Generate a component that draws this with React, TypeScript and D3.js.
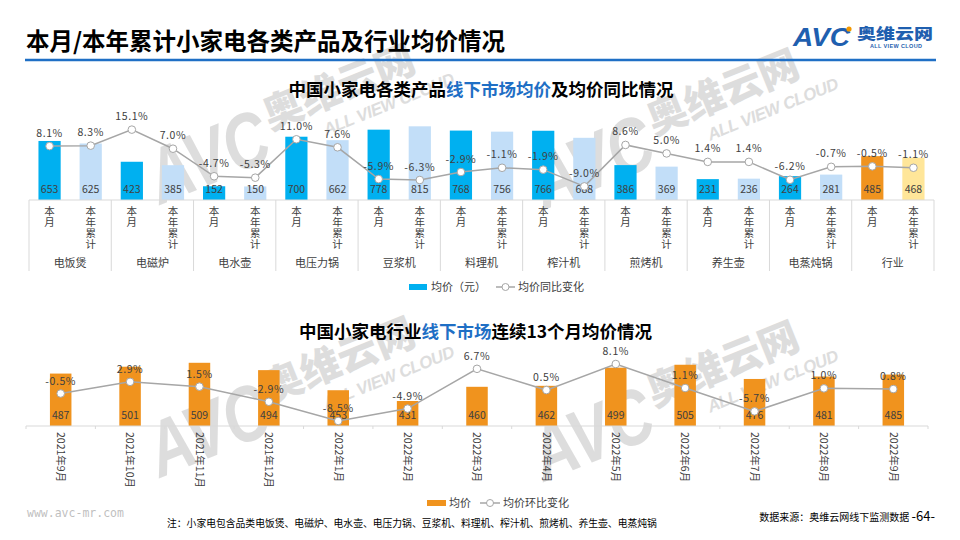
import React, { useEffect, useRef } from "react";
import * as d3 from "d3";

// 各类产品本月 / 本年累计均价
const categories = ["电饭煲", "电磁炉", "电水壶", "电压力锅", "豆浆机", "料理机", "榨汁机", "煎烤机", "养生壶", "电蒸炖锅", "行业"];
const periods = ["本月", "本年累计"];
const monthPrice = [653, 423, 152, 700, 778, 768, 766, 386, 231, 264, 485];
const ytdPrice = [625, 385, 150, 662, 815, 756, 688, 369, 236, 281, 468];
const monthYoy = [8.1, 15.1, -4.7, 11.0, -5.9, -2.9, -1.9, 8.6, 1.4, -6.2, -0.5];
const ytdYoy = [8.3, 7.0, -5.3, 7.6, -6.3, -1.1, -9.0, 5.0, 1.4, -0.7, -1.1];

// 连续13个月行业均价
const months = ["2021年9月", "2021年10月", "2021年11月", "2021年12月", "2022年1月", "2022年2月", "2022年3月", "2022年4月", "2022年5月", "2022年6月", "2022年7月", "2022年8月", "2022年9月"];
const trendPrice = [487, 501, 509, 494, 453, 431, 460, 462, 499, 505, 476, 481, 485];
const trendMom = [-0.5, 2.9, 1.5, -2.9, -8.5, -4.9, 6.7, 0.5, 8.1, 1.1, -5.7, 1.0, 0.8];

const FONT = '"Microsoft YaHei", "Noto Sans CJK SC", sans-serif';
const BLUE = "#00b0f0";
const LIGHT_BLUE = "#c2def8";
const ORANGE = "#f0931e";
const YELLOW = "#ffe699";
const LINE = "#a6a6a6";
const TEXT = "#404040";
const GRID = "#d9d9d9";

const pct = (v: number) => v.toFixed(1) + "%";

const App = () => {
  const ref = useRef<SVGSVGElement>(null);

  useEffect(() => {
    draw();
  });

  const watermark = (svg: any, x: number, y: number) => {
    const g = svg
      .append("g")
      .attr("transform", `translate(${x}, ${y}) rotate(-22)`)
      .attr("fill", "#c8c8c8")
      .attr("opacity", 0.6);
    g.append("text")
      .attr("font-family", "Liberation Sans, sans-serif")
      .attr("font-size", 78)
      .attr("font-weight", 900)
      .attr("font-style", "italic")
      .attr("textLength", 125)
      .attr("lengthAdjust", "spacingAndGlyphs")
      .text("AVC");
    g.append("text")
      .attr("x", 130)
      .attr("y", -28)
      .attr("font-family", FONT)
      .attr("font-size", 40)
      .attr("font-weight", 900)
      .attr("textLength", 160)
      .attr("lengthAdjust", "spacingAndGlyphs")
      .text("奥维云网");
    g.append("text")
      .attr("x", 180)
      .attr("y", -2)
      .attr("font-family", "Liberation Sans, sans-serif")
      .attr("font-size", 17)
      .attr("font-weight", 700)
      .attr("font-style", "italic")
      .attr("textLength", 140)
      .text("ALL VIEW CLOUD");
  };

  const draw = () => {
    const svg = d3.select(ref.current);
    svg.selectAll("*").remove();
    svg.attr("font-family", FONT);

    watermark(svg, 160, 205);
    watermark(svg, 544, 210);
    watermark(svg, 160, 478);
    watermark(svg, 544, 482);

    // header
    svg
      .append("text")
      .attr("x", 26)
      .attr("y", 50)
      .attr("font-size", 23.5)
      .attr("font-weight", 700)
      .attr("fill", "#000")
      .text("本月/本年累计小家电各类产品及行业均价情况");
    svg
      .append("line")
      .attr("x1", 25)
      .attr("x2", 936)
      .attr("y1", 60)
      .attr("y2", 60)
      .attr("stroke", "#1f6fc5")
      .attr("stroke-width", 2.5);

    // logo
    svg
      .append("text")
      .attr("x", 793)
      .attr("y", 46)
      .attr("font-family", "Liberation Sans, sans-serif")
      .attr("font-size", 26)
      .attr("font-weight", 900)
      .attr("font-style", "italic")
      .attr("fill", "#1f5faf")
      .attr("textLength", 57)
      .attr("lengthAdjust", "spacingAndGlyphs")
      .text("AVC");
    svg.append("circle").attr("cx", 849).attr("cy", 29).attr("r", 2.6).attr("fill", "#f39800");
    svg
      .append("text")
      .attr("x", 857)
      .attr("y", 38.5)
      .attr("font-size", 15)
      .attr("font-weight", 900)
      .attr("fill", "#1f5faf")
      .attr("textLength", 76)
      .attr("lengthAdjust", "spacingAndGlyphs")
      .text("奥维云网");
    svg
      .append("text")
      .attr("x", 870)
      .attr("y", 47.5)
      .attr("font-family", "Liberation Sans, sans-serif")
      .attr("font-size", 5.5)
      .attr("font-weight", 700)
      .attr("fill", "#1f5faf")
      .attr("textLength", 52)
      .text("ALL VIEW CLOUD");

    // ---------- chart 1 ----------
    const title1 = svg
      .append("text")
      .attr("x", 481)
      .attr("y", 96)
      .attr("text-anchor", "middle")
      .attr("font-size", 17.5)
      .attr("font-weight", 700)
      .attr("fill", "#000");
    title1.append("tspan").text("中国小家电各类产品");
    title1.append("tspan").attr("fill", "#1f6fc5").text("线下市场均价");
    title1.append("tspan").text("及均价同比情况");

    const x0 = d3.scaleBand().domain(categories).range([29, 934]).padding(0);
    const x1 = d3.scaleBand().domain(periods).range([0, x0.bandwidth()]).padding(0);
    const y = d3.scaleLinear().domain([0, 1000]).range([200, 109.6]);
    const y2 = d3.scaleLinear().domain([-15, 20]).range([200.5, 118.1]);
    const barW = x1.bandwidth() * 0.54;

    const rows = categories.flatMap((c, i) => [
      { cat: c, period: periods[0], price: monthPrice[i], rate: monthYoy[i], color: c === "行业" ? ORANGE : BLUE },
      { cat: c, period: periods[1], price: ytdPrice[i], rate: ytdYoy[i], color: c === "行业" ? YELLOW : LIGHT_BLUE },
    ]);
    const cx = (d: any) => (x0(d.cat) as number) + (x1(d.period) as number) + x1.bandwidth() / 2;

    svg
      .append("g")
      .selectAll("rect")
      .data(rows)
      .join("rect")
      .attr("x", (d: any) => cx(d) - barW / 2)
      .attr("y", (d: any) => y(d.price))
      .attr("width", barW)
      .attr("height", (d: any) => y(0) - y(d.price))
      .attr("fill", (d: any) => d.color);

    svg
      .append("g")
      .selectAll("text")
      .data(rows)
      .join("text")
      .attr("x", cx)
      .attr("y", 193)
      .attr("text-anchor", "middle")
      .attr("font-size", 10.5)
      .attr("fill", TEXT)
      .text((d: any) => d.price);

    // axis & separators
    svg
      .append("line")
      .attr("x1", 29)
      .attr("x2", 934)
      .attr("y1", y(0))
      .attr("y2", y(0))
      .attr("stroke", GRID);
    const bounds = categories.map((c) => x0(c) as number).concat([934]);
    svg
      .append("g")
      .selectAll("line")
      .data(bounds)
      .join("line")
      .attr("x1", (d) => d)
      .attr("x2", (d) => d)
      .attr("y1", y(0))
      .attr("y2", 271)
      .attr("stroke", GRID);

    // vertical period labels (one char per line)
    svg
      .append("g")
      .selectAll("text")
      .data(rows)
      .join("text")
      .attr("x", cx)
      .attr("y", 206)
      .attr("font-size", 10.5)
      .attr("letter-spacing", 0.5)
      .attr("fill", TEXT)
      .style("writing-mode", "vertical-rl")
      .style("text-orientation", "upright")
      .text((d: any) => d.period);
    svg
      .append("g")
      .selectAll("text")
      .data(categories)
      .join("text")
      .attr("x", (d) => (x0(d) as number) + x0.bandwidth() / 2)
      .attr("y", 267)
      .attr("text-anchor", "middle")
      .attr("font-size", 11)
      .attr("fill", TEXT)
      .text((d) => d);

    const line1 = d3
      .line<any>()
      .x(cx)
      .y((d) => y2(d.rate));
    svg.append("path").attr("d", line1(rows)).attr("fill", "none").attr("stroke", LINE).attr("stroke-width", 1.5);
    svg
      .append("g")
      .selectAll("circle")
      .data(rows)
      .join("circle")
      .attr("cx", cx)
      .attr("cy", (d: any) => y2(d.rate))
      .attr("r", 3.8)
      .attr("fill", "#fff")
      .attr("stroke", LINE);
    svg
      .append("g")
      .selectAll("text")
      .data(rows)
      .join("text")
      .attr("x", cx)
      .attr("y", (d: any) => y2(d.rate) - 9.5)
      .attr("text-anchor", "middle")
      .attr("font-size", 10.5)
      .attr("letter-spacing", 0.6)
      .attr("fill", TEXT)
      .text((d: any) => pct(d.rate));

    // legend 1
    const lg1 = svg.append("g").attr("font-size", 11).attr("fill", TEXT);
    lg1.append("rect").attr("x", 409).attr("y", 284).attr("width", 18).attr("height", 6).attr("fill", BLUE);
    lg1.append("text").attr("x", 431).attr("y", 291).text("均价（元）");
    lg1.append("line").attr("x1", 496).attr("x2", 515).attr("y1", 287).attr("y2", 287).attr("stroke", LINE).attr("stroke-width", 1.5);
    lg1.append("circle").attr("cx", 505.5).attr("cy", 287).attr("r", 3.5).attr("fill", "#fff").attr("stroke", LINE);
    lg1.append("text").attr("x", 518).attr("y", 291).text("均价同比变化");

    // ---------- chart 2 ----------
    const title2 = svg
      .append("text")
      .attr("x", 475.5)
      .attr("y", 338)
      .attr("text-anchor", "middle")
      .attr("font-size", 17.5)
      .attr("font-weight", 700)
      .attr("fill", "#000");
    title2.append("tspan").text("中国小家电行业");
    title2.append("tspan").attr("fill", "#1f6fc5").text("线下市场");
    title2.append("tspan").text("连续13个月均价情况");

    const xb = d3.scaleBand().domain(months).range([26, 928]).padding(0);
    const yb = d3.scaleLinear().domain([380, 560]).range([426, 337.8]);
    const yb2 = d3.scaleLinear().domain([-10, 10]).range([426.1, 357.5]);
    const bw = xb.bandwidth() * 0.31;
    const mx = (m: string) => (xb(m) as number) + xb.bandwidth() / 2;
    const trend = months.map((m, i) => ({ m, price: trendPrice[i], rate: trendMom[i] }));

    svg
      .append("g")
      .selectAll("rect")
      .data(trend)
      .join("rect")
      .attr("x", (d) => mx(d.m) - bw / 2)
      .attr("y", (d) => yb(d.price))
      .attr("width", bw)
      .attr("height", (d) => yb(380) - yb(d.price))
      .attr("fill", ORANGE);

    svg
      .append("line")
      .attr("x1", 26)
      .attr("x2", 928)
      .attr("y1", yb(380))
      .attr("y2", yb(380))
      .attr("stroke", GRID);
    svg
      .append("g")
      .selectAll("line")
      .data(months.map((m) => xb(m) as number).concat([928]))
      .join("line")
      .attr("x1", (d) => d)
      .attr("x2", (d) => d)
      .attr("y1", yb(380))
      .attr("y2", yb(380) + 3)
      .attr("stroke", GRID);

    svg
      .append("g")
      .selectAll("text")
      .data(trend)
      .join("text")
      .attr("x", (d) => mx(d.m))
      .attr("y", 419)
      .attr("text-anchor", "middle")
      .attr("font-size", 10.5)
      .attr("fill", TEXT)
      .text((d) => d.price);

    svg
      .append("g")
      .selectAll("text")
      .data(months)
      .join("text")
      .attr("transform", (d) => `translate(${mx(d)}, 432) rotate(90)`)
      .attr("dy", "0.35em")
      .attr("font-size", 10.5)
      .attr("fill", TEXT)
      .text((d) => d);

    const line2 = d3
      .line<any>()
      .x((d) => mx(d.m))
      .y((d) => yb2(d.rate));
    svg.append("path").attr("d", line2(trend)).attr("fill", "none").attr("stroke", LINE).attr("stroke-width", 1.5);
    svg
      .append("g")
      .selectAll("circle")
      .data(trend)
      .join("circle")
      .attr("cx", (d) => mx(d.m))
      .attr("cy", (d) => yb2(d.rate))
      .attr("r", 3.8)
      .attr("fill", "#fff")
      .attr("stroke", LINE);
    svg
      .append("g")
      .selectAll("text")
      .data(trend)
      .join("text")
      .attr("x", (d) => mx(d.m))
      .attr("y", (d) => yb2(d.rate) - 9)
      .attr("text-anchor", "middle")
      .attr("font-size", 10.5)
      .attr("letter-spacing", 0.6)
      .attr("fill", TEXT)
      .text((d) => pct(d.rate));

    // legend 2
    const lg2 = svg.append("g").attr("font-size", 11).attr("fill", TEXT);
    lg2.append("rect").attr("x", 427).attr("y", 500).attr("width", 19).attr("height", 6).attr("fill", ORANGE);
    lg2.append("text").attr("x", 449).attr("y", 507).text("均价");
    lg2.append("line").attr("x1", 480).attr("x2", 500).attr("y1", 503).attr("y2", 503).attr("stroke", LINE).attr("stroke-width", 1.5);
    lg2.append("circle").attr("cx", 490).attr("cy", 503).attr("r", 3.5).attr("fill", "#fff").attr("stroke", LINE);
    lg2.append("text").attr("x", 503).attr("y", 507).text("均价环比变化");

    // footer
    svg
      .append("text")
      .attr("x", 27)
      .attr("y", 517)
      .attr("font-family", "DejaVu Sans Mono, monospace")
      .attr("font-size", 11.5)
      .attr("fill", "#bfbfbf")
      .text("www.avc-mr.com");
    svg
      .append("text")
      .attr("x", 167)
      .attr("y", 527)
      .attr("font-size", 9.8)
      .attr("fill", "#000")
      .text("注：小家电包含品类电饭煲、电磁炉、电水壶、电压力锅、豆浆机、料理机、榨汁机、煎烤机、养生壶、电蒸炖锅");
    const src = svg.append("text").attr("x", 935).attr("y", 521).attr("text-anchor", "end").attr("fill", "#000");
    src.append("tspan").attr("font-size", 10).text("数据来源：奥维云网线下监测数据 ");
    src.append("tspan").attr("font-size", 13).text("-64-");
  };

  return (
    <svg
      ref={ref}
      width={960}
      height={540}
      style={{ position: "absolute", left: 0, top: 0, background: "#fff" }}
    />
  );
};

export default App;
